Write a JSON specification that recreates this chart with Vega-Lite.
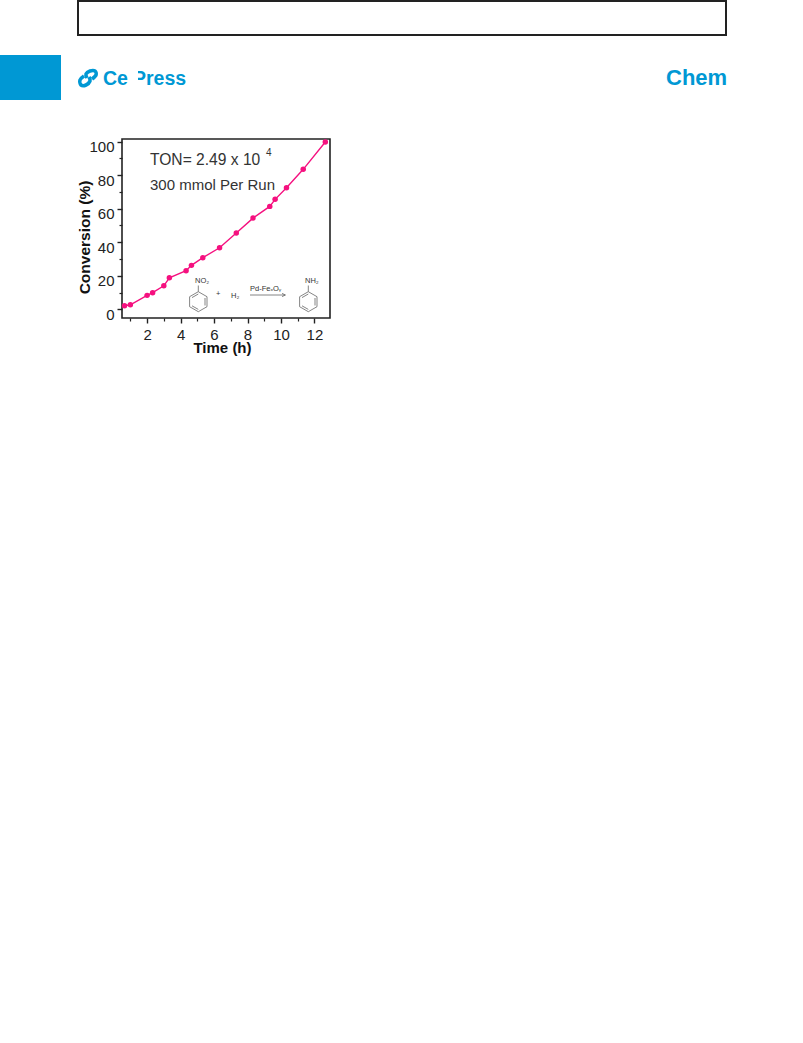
{"$schema":"https://vega.github.io/schema/vega-lite/v6.json","width":208,"height":179,"autosize":{"type":"none"},"padding":{"left":122,"top":139,"right":473,"bottom":725},"background":"white","view":{"stroke":"#222","strokeWidth":1.6,"fill":null},"config":{"font":"Liberation Sans"},"resolve":{"scale":{"x":"independent","y":"independent"},"axis":{"x":"independent","y":"independent"}},"datasets":{"series":[{"t":0.65,"c":2.1},{"t":1.0,"c":2.7},{"t":2.0,"c":8.3},{"t":2.33,"c":9.9},{"t":3.0,"c":14},{"t":3.33,"c":18.8},{"t":4.33,"c":23},{"t":4.65,"c":26.2},{"t":5.33,"c":30.8},{"t":6.33,"c":36.7},{"t":7.33,"c":45.5},{"t":8.33,"c":54.4},{"t":9.33,"c":61.4},{"t":9.65,"c":65.6},{"t":10.33,"c":72.5},{"t":11.33,"c":83.5},{"t":12.65,"c":99.8}],"blue":[{"x":0,"x2":61,"y":55,"y2":100}],"box":[{"x":78,"x2":726,"y":1,"y2":35}],"mask":[{"x":131,"x2":138,"y":65,"y2":90},{"x":131,"x2":145,"y":81,"y2":90}],"logo":[{"seg":"a","i":1,"px":87,"py":78},{"seg":"a","i":2,"px":86,"py":74},{"seg":"a","i":3,"px":90,"py":71},{"seg":"a","i":4,"px":95,"py":71},{"seg":"a","i":5,"px":96,"py":75},{"seg":"a","i":6,"px":92,"py":79},{"seg":"b","i":1,"px":89,"py":77},{"seg":"b","i":2,"px":90,"py":81},{"seg":"b","i":3,"px":86,"py":85},{"seg":"b","i":4,"px":81,"py":85},{"seg":"b","i":5,"px":80,"py":80},{"seg":"b","i":6,"px":84,"py":76}],"scheme":[{"seg":"r1","i":1,"px":198.3,"py":291.7},{"seg":"r1","i":2,"px":207,"py":296.7},{"seg":"r1","i":3,"px":207,"py":306.7},{"seg":"r1","i":4,"px":198.3,"py":311.7},{"seg":"r1","i":5,"px":189.6,"py":306.7},{"seg":"r1","i":6,"px":189.6,"py":296.7},{"seg":"r1","i":7,"px":198.3,"py":291.7},{"seg":"b1","i":1,"px":198.3,"py":291.7},{"seg":"b1","i":2,"px":198.3,"py":285.5},{"seg":"d1","i":1,"px":205,"py":298},{"seg":"d1","i":2,"px":205,"py":305.5},{"seg":"d2","i":1,"px":198.3,"py":309.4},{"seg":"d2","i":2,"px":192,"py":305.8},{"seg":"d3","i":1,"px":192,"py":297.6},{"seg":"d3","i":2,"px":198.3,"py":294},{"seg":"r2","i":1,"px":308.3,"py":291.7},{"seg":"r2","i":2,"px":317,"py":296.7},{"seg":"r2","i":3,"px":317,"py":306.7},{"seg":"r2","i":4,"px":308.3,"py":311.7},{"seg":"r2","i":5,"px":299.6,"py":306.7},{"seg":"r2","i":6,"px":299.6,"py":296.7},{"seg":"r2","i":7,"px":308.3,"py":291.7},{"seg":"b2","i":1,"px":308.3,"py":291.7},{"seg":"b2","i":2,"px":308.3,"py":285.5},{"seg":"d4","i":1,"px":315,"py":298},{"seg":"d4","i":2,"px":315,"py":305.5},{"seg":"d5","i":1,"px":308.3,"py":309.4},{"seg":"d5","i":2,"px":302,"py":305.8},{"seg":"d6","i":1,"px":302,"py":297.6},{"seg":"d6","i":2,"px":308.3,"py":294},{"seg":"ar","i":1,"px":250,"py":295},{"seg":"ar","i":2,"px":285,"py":295},{"seg":"ah","i":1,"px":282,"py":293.4},{"seg":"ah","i":2,"px":285.5,"py":295},{"seg":"ah","i":3,"px":282,"py":296.6}]},"layer":[{"data":{"name":"series"},"mark":{"type":"line","color":"#f5107f","strokeWidth":1.4,"clip":false},"encoding":{"x":{"field":"t","type":"quantitative","title":"Time (h)","scale":{"domain":[0.5,12.93],"nice":false,"zero":false},"axis":{"orient":"bottom","values":[2,4,6,8,10,12],"grid":false,"domain":false,"tickColor":"#222","tickWidth":1.4,"tickSize":5,"labelFont":"Liberation Sans","labelFontSize":15,"labelColor":"#222","labelPadding":4,"labelOverlap":false,"titleFont":"Liberation Sans","titleFontSize":15,"titleFontWeight":"bold","titleColor":"#111","titlePadding":-2,"titleX":100}},"y":{"field":"c","type":"quantitative","title":"Conversion (%)","scale":{"domain":[-5.2,101.6],"nice":false,"zero":false},"axis":{"orient":"left","values":[0,20,40,60,80,100],"grid":false,"domain":false,"tickColor":"#222","tickWidth":1.4,"tickSize":5,"labelFont":"Liberation Sans","labelFontSize":15,"labelColor":"#222","labelPadding":3,"labelOffset":5,"labelOverlap":false,"titleFont":"Liberation Sans","titleFontSize":15.5,"titleFontWeight":"bold","titleColor":"#111","titlePadding":-4,"titleY":98}}}},{"data":{"name":"series"},"mark":{"type":"point","filled":true,"opacity":1,"color":"#f5107f","size":30,"clip":false},"encoding":{"x":{"field":"t","type":"quantitative","title":null,"scale":{"domain":[0.5,12.93],"nice":false,"zero":false},"axis":{"orient":"bottom","values":[1,3,5,7,9,11],"labels":false,"grid":false,"domain":false,"tickColor":"#222","tickWidth":1.2,"tickSize":3}},"y":{"field":"c","type":"quantitative","title":null,"scale":{"domain":[-5.2,101.6],"nice":false,"zero":false},"axis":{"orient":"left","values":[10,30,50,70,90],"labels":false,"grid":false,"domain":false,"tickColor":"#222","tickWidth":1.2,"tickSize":3}}}},{"data":{"name":"box"},"mark":{"type":"rect","fill":null,"stroke":"#222","strokeWidth":2,"clip":false},"encoding":{"x":{"field":"x","type":"quantitative","scale":{"domain":[0,803],"range":[-122,681],"nice":false,"zero":false},"axis":null},"x2":{"field":"x2"},"y":{"field":"y","type":"quantitative","scale":{"domain":[0,1043],"range":[-139,904],"nice":false,"zero":false},"axis":null},"y2":{"field":"y2"}}},{"data":{"name":"blue"},"mark":{"type":"rect","fill":"#0098d4","clip":false},"encoding":{"x":{"field":"x","type":"quantitative","scale":{"domain":[0,803],"range":[-122,681],"nice":false,"zero":false},"axis":null},"x2":{"field":"x2"},"y":{"field":"y","type":"quantitative","scale":{"domain":[0,1043],"range":[-139,904],"nice":false,"zero":false},"axis":null},"y2":{"field":"y2"}}},{"data":{"values":[{"px":103,"py":78.5,"label":"Ce"},{"px":133,"py":78.5,"label":"Press"}]},"mark":{"type":"text","font":"Liberation Sans","fontWeight":"bold","fontSize":19.5,"color":"#0098d4","align":"left","baseline":"middle"},"encoding":{"x":{"field":"px","type":"quantitative","scale":{"domain":[0,803],"range":[-122,681],"nice":false,"zero":false},"axis":null},"y":{"field":"py","type":"quantitative","scale":{"domain":[0,1043],"range":[-139,904],"nice":false,"zero":false},"axis":null},"text":{"field":"label"}}},{"data":{"name":"mask"},"mark":{"type":"rect","fill":"white","clip":false},"encoding":{"x":{"field":"x","type":"quantitative","scale":{"domain":[0,803],"range":[-122,681],"nice":false,"zero":false},"axis":null},"x2":{"field":"x2"},"y":{"field":"y","type":"quantitative","scale":{"domain":[0,1043],"range":[-139,904],"nice":false,"zero":false},"axis":null},"y2":{"field":"y2"}}},{"data":{"values":[{"px":666,"py":78,"label":"Chem"}]},"mark":{"type":"text","font":"Liberation Sans","fontWeight":"bold","fontSize":22,"color":"#0098d4","align":"left","baseline":"middle"},"encoding":{"x":{"field":"px","type":"quantitative","scale":{"domain":[0,803],"range":[-122,681],"nice":false,"zero":false},"axis":null},"y":{"field":"py","type":"quantitative","scale":{"domain":[0,1043],"range":[-139,904],"nice":false,"zero":false},"axis":null},"text":{"field":"label"}}},{"data":{"name":"logo"},"mark":{"type":"line","color":"#0098d4","strokeWidth":3.6,"interpolate":"cardinal","clip":false},"encoding":{"x":{"field":"px","type":"quantitative","scale":{"domain":[0,803],"range":[-122,681],"nice":false,"zero":false},"axis":null},"y":{"field":"py","type":"quantitative","scale":{"domain":[0,1043],"range":[-139,904],"nice":false,"zero":false},"axis":null},"detail":{"field":"seg"},"order":{"field":"i"}}},{"data":{"name":"scheme"},"mark":{"type":"line","color":"#666","strokeWidth":0.8,"clip":false},"encoding":{"x":{"field":"px","type":"quantitative","scale":{"domain":[0,803],"range":[-122,681],"nice":false,"zero":false},"axis":null},"y":{"field":"py","type":"quantitative","scale":{"domain":[0,1043],"range":[-139,904],"nice":false,"zero":false},"axis":null},"detail":{"field":"seg"},"order":{"field":"i"}}},{"data":{"values":[{"px":150,"py":160,"label":"TON= 2.49 x 10","fs":15.6},{"px":150,"py":185,"label":"300 mmol Per Run","fs":15},{"px":266,"py":153,"label":"4","fs":10},{"px":195,"py":281,"label":"NO₂","fs":7.5},{"px":305,"py":280.5,"label":"NH₂","fs":7.5},{"px":216,"py":294,"label":"+","fs":7.5},{"px":231,"py":295.5,"label":"H₂","fs":7.5},{"px":250,"py":289,"label":"Pd-FeₓOᵧ","fs":7.5}]},"mark":{"type":"text","font":"Liberation Sans","color":"#333","align":"left","baseline":"middle"},"encoding":{"x":{"field":"px","type":"quantitative","scale":{"domain":[0,803],"range":[-122,681],"nice":false,"zero":false},"axis":null},"y":{"field":"py","type":"quantitative","scale":{"domain":[0,1043],"range":[-139,904],"nice":false,"zero":false},"axis":null},"text":{"field":"label"},"size":{"field":"fs","type":"quantitative","scale":null}}}]}
